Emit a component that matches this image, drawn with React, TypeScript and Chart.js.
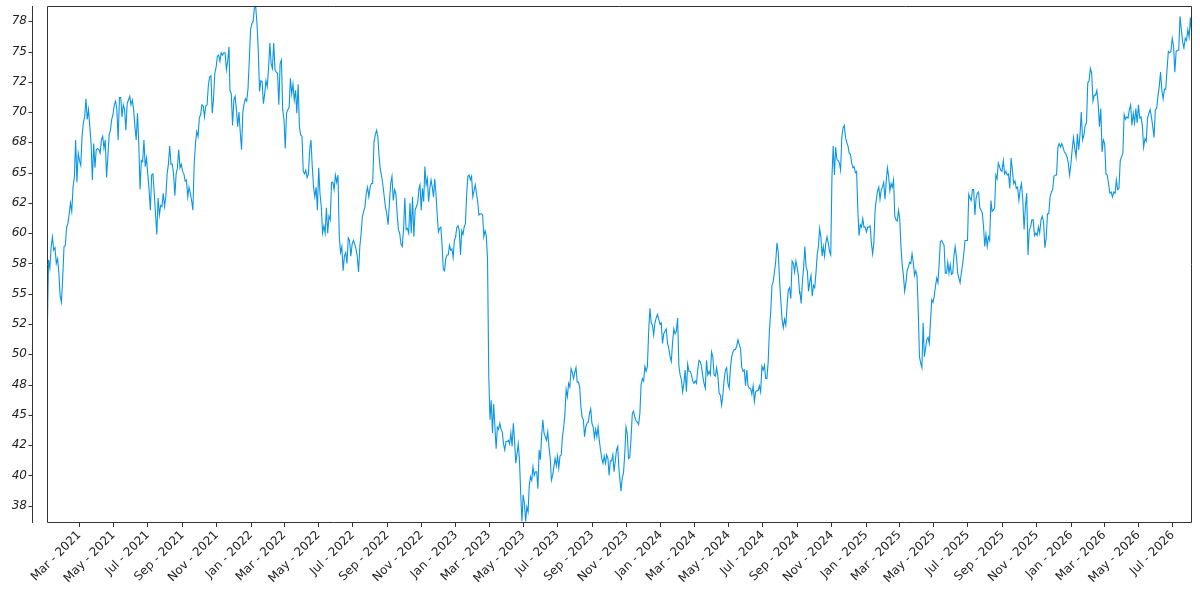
import React, { useEffect, useRef } from 'react';
import { Chart, registerables } from 'chart.js';

Chart.register(...registerables);

const START_UTC = Date.UTC(2021, 0, 1);
const DAY_MS = 86400000;

// Each segment: [first day, last day] counted from 2021-01-01, and the values read in between
const seg1Days = [2.0, 325.7];
const seg1Values = [
  51.8, 57.8, 57.1, 58.9, 59.7, 58.6, 58.8, 57.5, 57.9, 56.7,
  54.8, 54.3, 56.4, 58.9, 59.0, 60.5, 60.8, 61.6, 62.5, 61.8,
  63.8, 64.6, 67.7, 64.2, 66.6, 66.0, 65.6, 68.0, 69.1, 69.6,
  71.1, 69.4, 70.2, 68.8, 67.4, 64.4, 67.4, 65.4, 66.9, 67.0,
  66.9, 66.6, 67.7, 68.0, 67.0, 67.7, 64.6, 66.3, 68.1, 68.5,
  69.4, 69.8, 70.6, 70.9, 70.2, 67.7, 71.2, 71.2, 69.6, 70.6,
  70.2, 68.5, 70.7, 71.0, 71.3, 70.6, 71.0, 70.2, 68.8, 67.7,
  69.9, 67.4, 63.6, 66.0, 65.9, 67.7, 65.5, 66.2, 64.9, 63.6,
  61.9, 64.8, 64.9, 63.3, 61.6, 59.9, 62.9, 61.5, 62.3, 62.2,
  63.3, 62.2, 63.0, 64.9, 65.7, 67.2, 65.7, 65.7, 64.9, 63.1,
  64.9, 65.4, 66.9, 65.4, 65.7, 65.1, 64.9, 64.3, 64.4, 63.0,
  63.8, 63.3, 62.7, 61.9, 65.7, 67.4, 68.4, 68.0, 69.5, 69.8,
  70.6, 70.5, 69.6, 70.5, 70.6, 72.2, 72.9, 73.0, 69.9, 71.1,
  73.2, 73.7, 74.6, 74.7, 74.2, 74.9, 74.7, 74.9, 74.9, 73.5,
  74.2, 75.4,
];

const seg2Days = [327.5, 664.2];
const seg2Values = [
  71.8, 71.5, 68.9, 71.0, 71.3, 70.2, 68.8, 70.0, 68.3, 66.9,
  70.0, 70.7, 71.1, 70.9, 71.9, 74.2, 76.8, 77.3, 77.5, 78.6,
  78.7, 77.3, 75.1, 71.7, 72.6, 72.5, 70.7, 71.5, 72.6, 72.1,
  73.6, 75.7, 74.0, 73.6, 75.7, 73.5, 73.3, 73.2, 70.6, 74.0,
  74.3, 70.2, 69.4, 67.0, 69.9, 70.2, 70.4, 72.8, 71.5, 72.3,
  71.0, 71.8, 69.9, 72.3, 68.8, 68.1, 68.0, 65.1, 64.9, 65.2,
  64.6, 64.9, 66.9, 67.7, 65.5, 63.8, 63.0, 63.8, 61.9, 65.4,
  63.3, 62.2, 60.0, 60.6, 60.0, 62.1, 60.0, 61.4, 61.1, 64.2,
  64.2, 63.6, 64.8, 64.2, 64.8, 59.7, 58.4, 58.9, 56.9, 58.1,
  58.4, 57.5, 59.6, 59.4, 58.1, 59.1, 59.4, 59.1, 58.7, 58.1,
  56.8, 58.9, 60.0, 61.4, 61.8, 62.2, 63.3, 63.8, 63.0, 63.8,
  64.1, 64.1, 67.5, 68.1, 68.5, 68.0, 66.3, 65.2, 64.7, 63.9,
  63.0, 62.1, 61.6, 60.7, 62.5, 64.1, 64.7, 62.7, 63.6, 63.3,
  61.6, 60.3, 60.0, 59.1, 58.9, 60.3, 62.9, 60.3, 60.4, 60.0,
  62.5, 60.0, 63.0, 59.7, 61.9, 62.2, 62.5, 63.7,
];

const seg3Days = [666.0, 1020.5];
const seg3Values = [
  64.0, 61.9, 63.7, 62.6, 65.5, 64.0, 64.5, 62.6, 63.7, 64.4,
  63.8, 63.0, 64.5, 63.3, 61.6, 60.1, 60.4, 60.5, 59.0, 57.0,
  56.9, 57.9, 58.2, 58.2, 59.0, 58.6, 58.7, 58.0, 59.4, 59.7,
  60.5, 60.6, 60.2, 58.2, 60.2, 59.9, 60.5, 60.8, 63.2, 64.7,
  64.8, 64.4, 64.7, 63.0, 63.5, 64.0, 63.3, 62.6, 61.5, 61.6,
  61.6, 61.5, 59.7, 60.2, 59.8, 57.8, 48.2, 44.6, 46.2, 43.5,
  45.9, 44.0, 42.2, 44.0, 43.8, 44.3, 43.8, 43.6, 42.6, 42.1,
  42.8, 42.8, 42.9, 42.6, 43.5, 42.4, 44.3, 42.9, 41.0, 41.8,
  42.6, 41.3, 38.5, 36.2, 38.4, 37.7, 36.2, 37.4, 37.0, 39.2,
  39.9, 39.6, 40.7, 40.0, 40.3, 40.3, 38.9, 42.1, 41.3, 43.2,
  44.6, 43.5, 43.2, 42.9, 43.6, 42.4, 41.5, 39.6, 40.0, 40.7,
  41.4, 40.8, 41.6, 40.6, 41.6, 41.7, 43.2, 44.0, 45.1, 47.1,
  46.5, 47.6, 47.3, 48.8, 48.5, 48.0, 48.5, 48.9, 47.7, 47.7,
  47.3, 45.7, 44.8, 44.6, 43.2, 44.0, 44.3, 44.4, 45.1, 45.5,
  44.3, 44.0, 43.1, 43.8, 43.2, 44.0, 42.9, 42.1, 41.4, 41.0,
  41.6, 41.0, 41.7, 41.4, 40.0, 41.2, 41.2, 41.7, 40.3, 41.2,
  42.1, 42.4, 40.5,
];

const seg4Days = [1024.1, 1342.4];
const seg4Values = [
  38.7, 39.8, 40.2, 41.8, 44.0, 43.4, 41.4, 41.5, 43.1, 45.1,
  45.3, 44.8, 44.5, 44.4, 44.2, 45.1, 47.5, 48.0, 47.8, 49.0,
  48.6, 49.0, 51.9, 53.8, 52.6, 52.4, 51.6, 52.6, 53.0, 53.3,
  52.9, 52.5, 52.6, 50.9, 51.7, 51.9, 52.1, 50.9, 50.5, 49.8,
  49.4, 51.0, 52.1, 51.7, 51.9, 53.0, 49.1, 48.3, 47.9, 46.9,
  47.6, 48.7, 46.9, 49.2, 48.6, 48.6, 48.3, 47.8, 47.6, 47.8,
  47.6, 48.7, 49.5, 49.4, 49.0, 48.2, 47.6, 47.2, 49.5, 48.3,
  48.6, 48.3, 50.2, 49.8, 48.3, 48.2, 48.9, 48.2, 46.8, 46.6,
  45.8, 46.7, 47.9, 48.7, 48.9, 47.6, 47.2, 48.9, 49.8, 50.2,
  50.4, 50.4, 50.7, 51.2, 50.8, 50.5, 48.9, 48.6, 48.7, 47.4,
  48.7, 47.4, 47.2, 47.2, 46.7, 47.4, 46.1, 46.9, 47.0, 47.0,
  47.4, 46.9, 49.0, 48.7, 49.1, 48.0, 48.0, 49.4, 52.0, 53.5,
  55.7, 56.0, 56.8, 57.7, 59.2, 58.4, 56.2, 54.5, 52.9, 52.2,
  52.9, 52.4, 54.0, 55.3, 55.5, 54.6, 57.7, 57.5, 56.8, 57.7,
  57.2, 56.5, 55.0,
];

const seg5Days = [1342.9, 1696.3];
const seg5Values = [
  55.2, 54.2, 56.0, 57.2, 58.9, 57.2, 56.9, 55.2, 56.0, 56.5,
  54.8, 55.7, 55.5, 56.7, 58.2, 58.9, 60.4, 59.7, 58.1, 58.9,
  58.1, 59.2, 59.7, 59.2, 58.5, 58.2, 64.7, 67.2, 64.8, 67.1,
  66.1, 66.0, 65.8, 65.2, 67.9, 68.7, 68.9, 67.9, 67.5, 67.2,
  66.6, 66.5, 65.8, 65.4, 65.5, 65.0, 65.1, 61.9, 59.8, 60.7,
  60.5, 61.2, 60.5, 60.5, 60.1, 60.5, 60.5, 60.6, 59.2, 58.3,
  59.2, 61.9, 62.8, 63.5, 63.8, 62.8, 63.6, 63.8, 64.2, 62.8,
  64.2, 65.4, 64.7, 63.5, 64.1, 63.8, 64.4, 61.4, 61.1, 61.0,
  61.9, 61.2, 58.9, 57.4, 56.5, 55.2, 55.9, 56.9, 57.2, 57.6,
  57.5, 58.3, 57.6, 56.5, 56.9, 56.5, 53.7, 49.8, 49.3, 48.9,
  52.6, 49.8, 50.5, 51.2, 51.4, 50.9, 52.8, 54.5, 54.3, 54.8,
  55.6, 56.3, 55.9, 57.5, 59.3, 59.4, 59.2, 59.0, 56.7, 56.7,
  57.6, 56.7, 57.4, 56.6, 56.7, 58.1, 58.9, 58.1, 56.7, 56.3,
  55.9, 56.7, 57.4, 58.3, 59.4, 59.4, 59.4, 63.2, 62.9, 62.7,
  63.6, 63.6, 61.5, 62.9, 63.3, 63.4, 62.1, 61.9, 61.7, 60.6,
  58.9, 59.9, 58.9, 59.7, 59.4, 62.7, 61.8, 61.9, 62.1, 64.8,
  64.5, 65.8,
];

const seg6Days = [1700.6, 2040.9];
const seg6Values = [
  65.2, 65.1, 66.0, 64.9, 65.1, 64.8, 64.9, 63.7, 66.2, 65.2,
  64.1, 64.3, 63.7, 63.8, 62.7, 63.6, 64.1, 62.7, 60.3, 62.2,
  63.3, 58.2, 60.3, 60.5, 61.1, 61.1, 59.8, 60.0, 59.8, 60.5,
  60.0, 61.1, 61.4, 60.9, 58.8, 59.6, 61.6, 61.6, 63.0, 63.4,
  63.6, 64.7, 64.8, 64.8, 67.1, 67.4, 67.1, 67.4, 67.1, 66.7,
  66.6, 66.3, 65.8, 64.8, 65.7, 66.9, 67.9, 67.0, 66.3, 68.2,
  66.9, 68.1, 70.0, 67.7, 68.1, 68.9, 69.1, 72.4, 72.6, 73.6,
  73.2, 70.9, 71.4, 71.4, 71.8, 70.7, 68.8, 70.3, 66.7, 67.7,
  67.4, 64.9, 64.8, 64.1, 63.3, 63.4, 63.0, 63.4, 63.3, 64.4,
  63.6, 63.7, 66.0, 66.3, 66.6, 69.8, 69.4, 69.6, 69.5, 70.2,
  70.6, 68.9, 69.9, 69.1, 70.3, 69.1, 70.6, 69.5, 69.6, 68.9,
  67.1, 67.8, 67.6, 69.5, 69.9, 70.2, 69.6, 68.8, 67.9, 70.2,
  70.3, 71.3, 72.1, 73.3, 71.8, 71.1, 71.9, 71.9, 73.5, 75.0,
  74.9, 75.0, 76.1, 75.5, 73.3, 75.0, 75.1, 75.1, 77.9, 76.8,
  75.8, 75.3, 76.1, 75.9, 76.8, 76.2, 77.8, 76.5,
];

const xRangeDays = [1.5, 2041.4];
const yRange = [36.07, 78.76];
const yTickValues = [37.5, 40, 42.5, 45, 47.5, 50, 52.5, 55, 57.5, 60, 62.5, 65, 67.5, 70, 72.5, 75, 77.5];
const xTickDates = [
  '2021-03-01', '2021-05-01', '2021-07-01', '2021-09-01', '2021-11-01',
  '2022-01-01', '2022-03-01', '2022-05-01', '2022-07-01', '2022-09-01', '2022-11-01',
  '2023-01-01', '2023-03-01', '2023-05-01', '2023-07-01', '2023-09-01', '2023-11-01',
  '2024-01-01', '2024-03-01', '2024-05-01', '2024-07-01', '2024-09-01', '2024-11-01',
  '2025-01-01', '2025-03-01', '2025-05-01', '2025-07-01', '2025-09-01', '2025-11-01',
  '2026-01-01', '2026-03-01', '2026-05-01', '2026-07-01',
];
const monthNames = ['Jan', 'Feb', 'Mar', 'Apr', 'May', 'Jun', 'Jul', 'Aug', 'Sep', 'Oct', 'Nov', 'Dec'];

const segments: [number[], number[]][] = [
  [seg1Days, seg1Values],
  [seg2Days, seg2Values],
  [seg3Days, seg3Values],
  [seg4Days, seg4Values],
  [seg5Days, seg5Values],
  [seg6Days, seg6Values],
];

function buildPoints() {
  const pts: { x: number; y: number }[] = [];
  for (const [days, vals] of segments) {
    const n = vals.length;
    const step = (days[1] - days[0]) / (n - 1);
    for (let i = 0; i < n; i++) {
      pts.push({ x: START_UTC + (days[0] + i * step) * DAY_MS, y: vals[i] });
    }
  }
  return pts;
}

function roundHalfEven(v: number) {
  const f = Math.floor(v);
  if (Math.abs(v - f - 0.5) < 1e-9) return f % 2 === 0 ? f : f + 1;
  return Math.round(v);
}

const AXIS_COLOR = '#333333';

const framePlugin = {
  id: 'frame',
  afterDraw(chart: any) {
    const { ctx, chartArea: a, scales } = chart;
    ctx.save();
    ctx.strokeStyle = AXIS_COLOR;
    ctx.lineWidth = 1;
    const l = Math.round(a.left) + 0.5;
    const t = Math.round(a.top) + 0.5;
    const r = Math.round(a.right) - 0.5;
    const b = Math.round(a.bottom) - 0.5;
    ctx.beginPath();
    ctx.moveTo(l, t);
    ctx.lineTo(r, t);
    ctx.lineTo(r, b);
    ctx.lineTo(l, b);
    ctx.closePath();
    ctx.stroke();
    const ax = Math.round(a.left) - 15 + 0.5;
    ctx.beginPath();
    ctx.moveTo(ax, a.top);
    ctx.lineTo(ax, a.bottom);
    for (const tk of scales.y.ticks) {
      const py = Math.round(scales.y.getPixelForValue(tk.value)) + 0.5;
      ctx.moveTo(ax - 4, py);
      ctx.lineTo(ax, py);
    }
    ctx.stroke();
    ctx.restore();
  },
};

export default function App() {
  const ref = useRef<HTMLCanvasElement | null>(null);
  useEffect(() => {
    if (!ref.current) return;
    const chart = new Chart(ref.current, {
      type: 'line',
      data: {
        datasets: [
          {
            data: buildPoints(),
            borderColor: '#0996e6',
            borderWidth: 1.1,
            pointRadius: 0,
            tension: 0,
            fill: false,
          },
        ],
      },
      options: {
        animation: false,
        responsive: true,
        maintainAspectRatio: false,
        layout: { autoPadding: false, padding: { top: 6, right: 8, left: 0, bottom: 0 } },
        plugins: { legend: { display: false }, tooltip: { enabled: false } },
        scales: {
          x: {
            type: 'linear',
            min: START_UTC + xRangeDays[0] * DAY_MS,
            max: START_UTC + xRangeDays[1] * DAY_MS,
            afterBuildTicks: (scale: any) => {
              scale.ticks = xTickDates.map((d) => ({ value: Date.parse(d) }));
            },
            afterFit: (scale: any) => {
              scale.height = 77;
              scale.paddingLeft = 0;
              scale.paddingRight = 0;
              scale.paddingTop = 0;
              scale.paddingBottom = 0;
            },
            border: { display: false },
            grid: { display: true, drawOnChartArea: false, drawTicks: true, tickLength: 4, color: AXIS_COLOR },
            ticks: {
              autoSkip: false,
              maxRotation: 45,
              minRotation: 45,
              padding: 1,
              color: '#222222',
              font: { family: 'DejaVu Sans', size: 12 },
              callback: (v: any) => {
                const d = new Date(Number(v));
                return `${monthNames[d.getUTCMonth()]} - ${d.getUTCFullYear()}`;
              },
            },
          },
          y: {
            type: 'linear',
            min: yRange[0],
            max: yRange[1],
            afterBuildTicks: (scale: any) => {
              scale.ticks = yTickValues.map((v) => ({ value: v }));
            },
            afterFit: (scale: any) => {
              scale.width = 47;
              scale.paddingLeft = 0;
              scale.paddingRight = 0;
              scale.paddingTop = 0;
              scale.paddingBottom = 0;
            },
            border: { display: false },
            grid: { display: false, drawTicks: false },
            ticks: {
              padding: 20,
              color: '#222222',
              font: { family: 'DejaVu Sans', size: 12, style: 'italic' },
              callback: (v: any) => String(roundHalfEven(Number(v))),
            },
          },
        },
      },
      plugins: [framePlugin],
    });
    return () => chart.destroy();
  }, []);
  return (
    <div style={{ position: 'absolute', left: 0, top: 0, width: 1200, height: 600, background: '#fff' }}>
      <canvas ref={ref} />
    </div>
  );
}
